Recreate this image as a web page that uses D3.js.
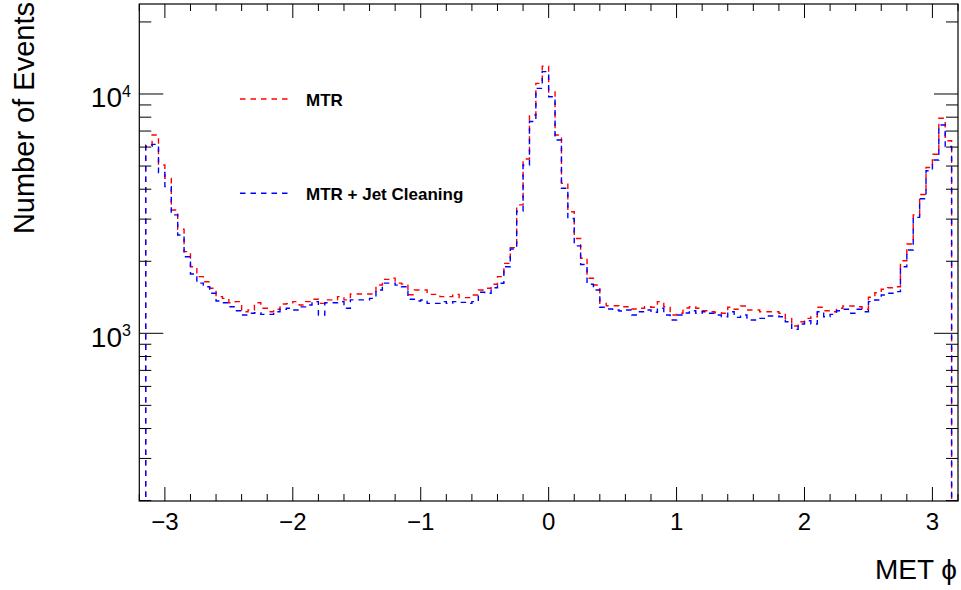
<!DOCTYPE html>
<html>
<head>
<meta charset="utf-8">
<script src="https://cdn.jsdelivr.net/npm/d3@7"></script>
<style>
  html, body { margin: 0; padding: 0; background: #fff; }
  svg { display: block; font-family: "Liberation Sans", Arial, Helvetica, sans-serif; }
</style>
</head>
<body>
<svg id="chart" width="961" height="590"></svg>
<script>
// ---- data ----
const xMin = -3.2, xMax = 3.2, nBins = 128;
const seriesNames = ["MTR", "MTR + Jet Cleaning"];
const seriesColors = ["#ff0000", "#0000ff"];
const mtr = [0, 6120, 6740, 5050, 4440, 3275, 2720, 2195, 1898, 1725,
  1643, 1542, 1423, 1400, 1342, 1356, 1231, 1251, 1342, 1272,
  1231, 1260, 1326, 1330, 1356, 1313, 1356, 1387, 1334, 1380,
  1380, 1423, 1380, 1460, 1460, 1460, 1460, 1592, 1681, 1700,
  1620, 1605, 1450, 1517, 1517, 1455, 1455, 1423, 1423, 1455,
  1410, 1410, 1446, 1517, 1542, 1603, 1725, 1960, 2280, 3440,
  5350, 8170, 11080, 13050, 10200, 6740, 4230, 3220, 2490, 2060,
  1698, 1592, 1334, 1304, 1304, 1292, 1292, 1263, 1272, 1292,
  1285, 1356, 1292, 1192, 1212, 1275, 1292, 1272, 1243, 1231,
  1219, 1212, 1285, 1260, 1300, 1251, 1251, 1231, 1231, 1231,
  1212, 1155, 1073, 1118, 1155, 1173, 1285, 1243, 1231, 1272,
  1300, 1300, 1292, 1260, 1414, 1478, 1527, 1550, 1566, 2010,
  2362, 3125, 3800, 4930, 5600, 7920, 6380, 0];
const mtrJet = [0, 6050, 6160, 4700, 4100, 3125, 2575, 2090, 1770, 1620,
  1565, 1470, 1364, 1342, 1292, 1243, 1192, 1212, 1219, 1200,
  1200, 1231, 1260, 1272, 1251, 1290, 1313, 1356, 1192, 1342,
  1342, 1356, 1272, 1380, 1380, 1380, 1400, 1517, 1620, 1620,
  1590, 1565, 1387, 1364, 1378, 1334, 1334, 1356, 1334, 1356,
  1347, 1334, 1356, 1484, 1470, 1551, 1619, 1898, 2250, 3240,
  5050, 7670, 10560, 12400, 9740, 6420, 4040, 3020, 2320, 1940,
  1603, 1517, 1285, 1263, 1251, 1239, 1251, 1192, 1231, 1251,
  1224, 1272, 1192, 1137, 1192, 1215, 1243, 1212, 1231, 1212,
  1192, 1173, 1231, 1166, 1192, 1137, 1137, 1155, 1181, 1181,
  1173, 1118, 1039, 1093, 1129, 1093, 1231, 1173, 1200, 1243,
  1260, 1212, 1260, 1231, 1356, 1378, 1446, 1470, 1493, 1898,
  2228, 3050, 3650, 4780, 5300, 7420, 6030, 0];
const xTickLabels = ["\u22123", "\u22122", "\u22121", "0", "1", "2", "3"];
const xTickValues = [-3, -2, -1, 0, 1, 2, 3];
const yMajorTicks = [1000, 10000];
const yMajorExp = ["3", "4"];
const yDomain = [199.2, 23770];

// ---- layout ----
const L = 139.3, R = 958, T = 4, B = 501;
const svg = d3.select("#chart");
const x = d3.scaleLinear().domain([xMin, xMax]).range([L, R]);
const y = d3.scaleLog().domain(yDomain).range([B, T]);

svg.append("defs").append("clipPath").attr("id", "clip")
  .append("rect").attr("x", L).attr("y", T - 1).attr("width", R - L).attr("height", B - T + 1);

// histograms
const binW = (xMax - xMin) / nBins;
function stepPoints(vals) {
  const pts = [];
  vals.forEach((v, i) => {
    const vv = Math.max(v, yDomain[0]);
    pts.push([xMin + i * binW, vv]);
    pts.push([xMin + (i + 1) * binW, vv]);
  });
  return pts;
}
const line = d3.line().x(d => x(d[0])).y(d => y(d[1]));
const g = svg.append("g").attr("clip-path", "url(#clip)");
[mtr, mtrJet].forEach((vals, si) => {
  g.append("path").attr("d", line(stepPoints(vals)))
    .attr("fill", "none").attr("stroke", seriesColors[si])
    .attr("stroke-width", 1.4).attr("stroke-dasharray", "5.5,5");
});

// frame
svg.append("rect").attr("x", L).attr("y", T).attr("width", R - L).attr("height", B - T)
  .attr("fill", "none").attr("stroke", "#000").attr("stroke-width", 1.2);

// x ticks (bottom & top)
const xMinor = d3.range(-3.2, 3.2001, 0.2).map(v => Math.round(v * 10) / 10);
const tk = svg.append("g").attr("stroke", "#000").attr("stroke-width", 1);
xMinor.forEach(v => {
  const isMajor = Math.abs(v - Math.round(v)) < 1e-6;
  const len = isMajor ? 14 : 7;
  const px = x(v);
  tk.append("line").attr("x1", px).attr("x2", px).attr("y1", B).attr("y2", B - len);
  tk.append("line").attr("x1", px).attr("x2", px).attr("y1", T).attr("y2", T + len);
});
// y ticks (left & right)
const yTicks = [];
[100, 1000, 10000].forEach(dec => { for (let m = 1; m <= 9; m++) yTicks.push(m * dec); });
yTicks.filter(v => v >= yDomain[0] - 1 && v <= yDomain[1]).forEach(v => {
  const isMajor = yMajorTicks.includes(v);
  const len = isMajor ? 24 : 12;
  const py = y(v);
  tk.append("line").attr("x1", L).attr("x2", L + len).attr("y1", py).attr("y2", py);
  tk.append("line").attr("x1", R).attr("x2", R - len).attr("y1", py).attr("y2", py);
});

// x tick labels
svg.append("g").selectAll("text").data(xTickValues).join("text")
  .attr("x", d => x(d)).attr("y", 530)
  .attr("text-anchor", "middle").attr("font-size", 24)
  .text((d, i) => xTickLabels[i]);

// y tick labels
yMajorTicks.forEach((v, i) => {
  const py = y(v);
  svg.append("text").attr("x", 122).attr("y", py + 13.5)
    .attr("text-anchor", "end").attr("font-size", 28).text("10");
  svg.append("text").attr("x", 122).attr("y", py + 3)
    .attr("text-anchor", "start").attr("font-size", 16).text(yMajorExp[i]);
});

// axis titles
svg.append("text").attr("x", 957).attr("y", 579).attr("text-anchor", "end")
  .attr("font-size", 28).text("MET \u03d5");
svg.append("text").attr("transform", "translate(34,2) rotate(-90)")
  .attr("text-anchor", "end").attr("font-size", 29).text("Number of Events");

// legend
const legY = [99, 193.3];
seriesNames.forEach((name, i) => {
  svg.append("line").attr("x1", 240).attr("x2", 290).attr("y1", legY[i]).attr("y2", legY[i])
    .attr("stroke", seriesColors[i]).attr("stroke-width", 1.4).attr("stroke-dasharray", "5.5,5");
  svg.append("text").attr("x", 306).attr("y", legY[i] + 6.5)
    .attr("font-size", 17).attr("font-weight", "bold").text(name);
});
</script>
</body>
</html>
